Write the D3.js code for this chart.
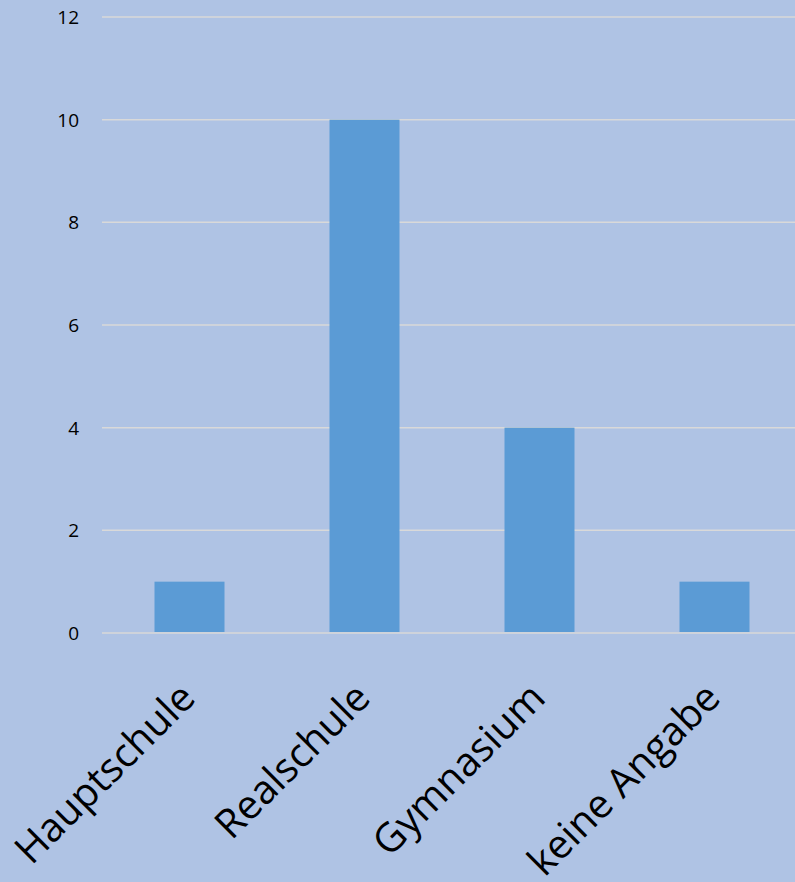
<!DOCTYPE html>
<html><head><meta charset="utf-8">
<script src="https://cdn.jsdelivr.net/npm/d3@7"></script>
<style>html,body{margin:0;padding:0;background:#afc3e4;}svg{display:block;}</style>
</head><body>
<svg id="chart" width="795" height="882"></svg>
<script>
const categories = ["Hauptschule", "Realschule", "Gymnasium", "keine Angabe"];
const values = [1, 10, 4, 1];
const yTicks = [0, 2, 4, 6, 8, 10, 12];

const svg = d3.select("#chart");
svg.append("rect").attr("width", 795).attr("height", 882).attr("fill", "#afc3e4");

const x = d3.scaleBand().domain(categories).range([102, 802]).paddingInner(0.6).paddingOuter(0.3);
const y = d3.scaleLinear().domain([0, 12]).range([633, 17]);

// gridlines
svg.append("g").selectAll("line").data(yTicks).join("line")
  .attr("x1", 102).attr("x2", 795)
  .attr("y1", d => y(d)).attr("y2", d => y(d))
  .attr("stroke", "#d9d9d9").attr("stroke-width", 1.5);

// y labels
svg.append("g").selectAll("text").data(yTicks).join("text")
  .attr("x", 79).attr("y", d => y(d)).attr("dy", "0.36em")
  .attr("text-anchor", "end")
  .attr("font-family", "'Open Sans', sans-serif").attr("font-size", 19).attr("fill", "#000")
  .text(d => d);

// bars
svg.append("g").selectAll("rect").data(values).join("rect")
  .attr("x", (d, i) => x(categories[i]))
  .attr("width", x.bandwidth())
  .attr("y", d => y(d))
  .attr("height", d => y(0) - y(d) - 1)
  .attr("fill", "#5b9bd5");

// x labels
svg.append("g").selectAll("text").data(categories).join("text")
  .attr("transform", d => `translate(${x(d) + x.bandwidth() / 2 + 8},${700}) rotate(-45)`)
  .attr("text-anchor", "end")
  .attr("font-family", "'Open Sans', sans-serif").attr("font-size", 40).attr("fill", "#000")
  .text(d => d);
</script>
</body></html>
